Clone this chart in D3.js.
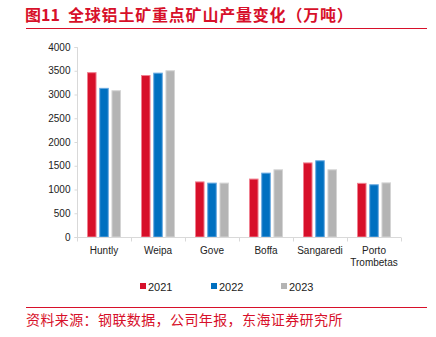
<!DOCTYPE html>
<html><head><meta charset="utf-8">
<script src="https://cdn.jsdelivr.net/npm/d3@7/dist/d3.min.js"></script>
<style>body{margin:0;background:#fff}svg{display:block}</style>
</head><body><svg id="c" width="436" height="337"></svg>
<script>
const categories = ["Huntly","Weipa","Gove","Boffa","Sangaredi","Porto\nTrombetas"];
const years = ["2021","2022","2023"];
const v2021 = [3470,3410,1170,1230,1570,1140];
const v2022 = [3140,3460,1145,1355,1615,1110];
const v2023 = [3090,3510,1145,1425,1425,1150];
const yTicks = [0,500,1000,1500,2000,2500,3000,3500,4000];
const colors = ["#d7102a","#0070c0","#b4b4b4"];
const strokes = ["#f08090","#66a8e0","#d4d4d4"];
const series = [v2021,v2022,v2023];

const svg = d3.select("#c");
const font = "'Liberation Sans', Arial, sans-serif";
const cjk = "'Noto Sans CJK SC', sans-serif";
const red = "#d7102a";

svg.append("text").attr("x",25).attr("y",21).attr("fill",red)
  .attr("font-family",cjk).attr("font-weight","bold").attr("font-size",16)
  .text("图11");
svg.append("text").attr("x",68).attr("y",21).attr("fill",red)
  .attr("font-family",cjk).attr("font-weight","bold").attr("font-size",16)
  .attr("letter-spacing",0.8)
  .text("全球铝土矿重点矿山产量变化（万吨）");
svg.append("line").attr("x1",26).attr("x2",427).attr("y1",28.5).attr("y2",28.5).attr("stroke",red).attr("stroke-width",1);
svg.append("line").attr("x1",26).attr("x2",427).attr("y1",307.5).attr("y2",307.5).attr("stroke",red).attr("stroke-width",1);
svg.append("text").attr("x",26).attr("y",325).attr("fill",red)
  .attr("font-family",cjk).attr("font-size",14).attr("letter-spacing",0.4)
  .text("资料来源：钢联数据，公司年报，东海证券研究所");

const x0 = d3.scaleBand().domain(categories).range([77,401]).paddingInner(0).paddingOuter(0);
const y = d3.scaleLinear().domain([0,4000]).range([237,47]);
const x1 = d3.scaleBand().domain(years).range([0,34]).paddingInner(0.22);
const offset = (x0.bandwidth()-34)/2;

// y axis
const ya = svg.append("g").attr("transform","translate(77.5,0)")
  .call(d3.axisLeft(y).tickValues(yTicks).tickFormat(d3.format("d")).tickSize(3).tickPadding(4));
ya.select(".domain").attr("stroke","#d9d9d9").attr("d","M-3,47.5H0V237.5H-3");
ya.selectAll(".tick line").attr("stroke","#d9d9d9");
ya.selectAll("text").attr("font-family",font).attr("font-size",10).attr("fill","#222");

// bars
categories.forEach((c,i)=>{
  series.forEach((s,j)=>{
    svg.append("rect")
      .attr("x",x0(c)+offset+x1(years[j])+0.5)
      .attr("y",y(s[i])+0.5)
      .attr("width",x1.bandwidth()-1)
      .attr("height",y(0)-y(s[i])-0.5)
      .attr("fill",colors[j]).attr("stroke",strokes[j]).attr("stroke-width",1);
  });
});

// x axis
const xa = svg.append("g").attr("transform","translate(0,237.5)");
xa.append("line").attr("x1",77).attr("x2",401).attr("y1",0).attr("y2",0).attr("stroke","#d9d9d9");
d3.range(categories.length+1).forEach(k=>{
  const xx = Math.round(77 + k*x0.step())+0.5;
  xa.append("line").attr("x1",xx).attr("x2",xx).attr("y1",0).attr("y2",4).attr("stroke","#d9d9d9");
});
categories.forEach(c=>{
  const lines = c.split("\n");
  const t = xa.append("text").attr("text-anchor","middle").attr("font-family",font).attr("font-size",10).attr("fill","#222");
  lines.forEach((l,k)=>{
    t.append("tspan").attr("x",x0(c)+x0.bandwidth()/2).attr("y",16+k*12).text(l);
  });
});

// legend
const legX = [140,211,281];
years.forEach((yr,j)=>{
  svg.append("rect").attr("x",legX[j]).attr("y",283).attr("width",6).attr("height",6).attr("fill",colors[j]);
  svg.append("text").attr("x",legX[j]+8).attr("y",291).attr("font-family",font).attr("font-size",11).attr("fill","#222").text(yr);
});
</script></body></html>
